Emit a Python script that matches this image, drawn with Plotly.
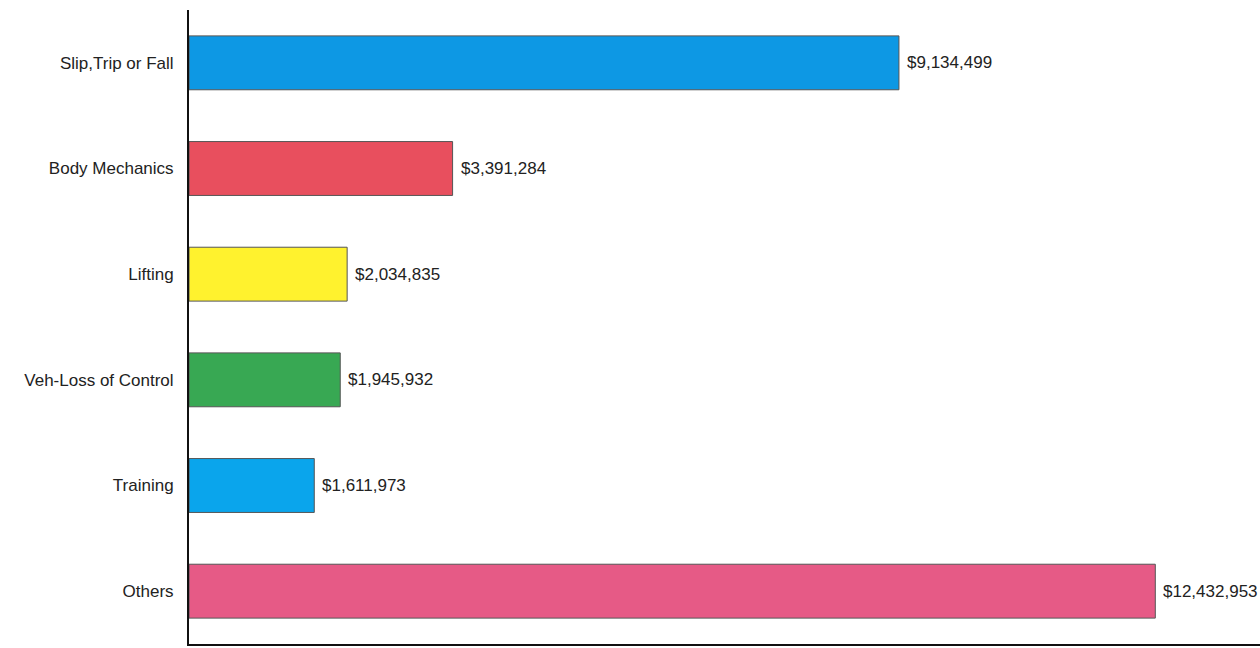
import plotly.graph_objects as go

categories = ["Slip,Trip or Fall", "Body Mechanics", "Lifting",
              "Veh-Loss of Control", "Training", "Others"]
costs = [9134499, 3391284, 2034835, 1945932, 1611973, 12432953]
bar_colors = ["#0d98e4", "#e84f5e", "#fff22e", "#38a853", "#0aa5ec", "#e65a86"]

labels = [f"${v:,}" for v in costs]

fig = go.Figure(go.Bar(
    x=costs,
    y=categories,
    orientation="h",
    marker=dict(color=bar_colors, line=dict(color="#555555", width=1)),
    width=0.51,
    hoverinfo="x+y",
))

# value labels just past the end of each bar
for c, v, t in zip(categories, costs, labels):
    fig.add_annotation(x=v, y=c, text=t, showarrow=False,
                       xanchor="left", xshift=6,
                       font=dict(size=17, color="#222222"))

fig.update_layout(
    width=1260,
    height=648,
    margin=dict(l=189, r=0, t=10, b=4),
    paper_bgcolor="white",
    plot_bgcolor="white",
    showlegend=False,
    font=dict(family="Liberation Sans, Arial, sans-serif", size=17, color="#222222"),
)
fig.update_xaxes(range=[0, 13780000], showgrid=False, showticklabels=False,
                 zeroline=False, showline=True, linecolor="#111111", linewidth=2)
fig.update_yaxes(autorange="reversed", showgrid=False, showline=True,
                 linecolor="#111111", linewidth=2, ticks="", automargin=False,
                 ticklabelstandoff=10, tickfont=dict(size=17))

# drop the default page margin so the figure sits at the window's corner
fig.write_html("out.html", config={"displayModeBar": False},
               post_script="document.body.style.margin='0';")
